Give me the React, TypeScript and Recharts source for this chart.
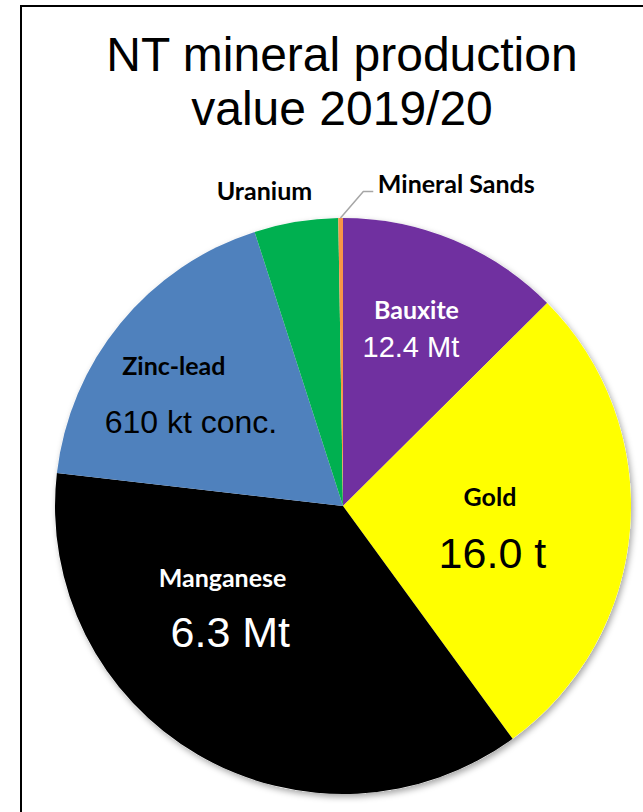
import React from "react";
import { PieChart, Pie, Cell } from "recharts";

const categories = ["Bauxite", "Gold", "Manganese", "Zinc-lead", "Uranium", "Mineral Sands"];
const values = [480, 1050, 1410, 697, 180, 10];
const quantities = ["12.4 Mt", "16.0 t", "6.3 Mt", "610 kt conc.", "", ""];
const colors = ["#7030A0", "#FFFF00", "#000000", "#4F81BD", "#00B050", "#F79646"];

const data = categories.map((name, i) => ({ name, value: values[i], qty: quantities[i] }));

// label placement: [angle clockwise from 12 o'clock, fraction of outer radius]
const placement: any[] = [
  { name: [20.6, 0.725], qty: [23.1, 0.601], fill: "#fff", qtySize: 29 },
  { name: [86.9, 0.511], qty: [107.5, 0.544], fill: "#000", qtySize: 43 },
  { name: [238.8, 0.489], qty: [221.8, 0.587], fill: "#fff", qtySize: 43 },
  { name: [309.4, 0.76], qty: [298.9, 0.603], fill: "#000", qtySize: 32 },
  { name: [345.96, 1.124], fill: "#000" },
  { name: [6.2, 1.121], fill: "#000", anchor: "start", leader: [[359.5, 1.0], [3.7, 1.094], [5.5, 1.097]] },
];

const polar = (cx: number, cy: number, r: number, deg: number) => {
  const a = (deg * Math.PI) / 180;
  return { x: cx + r * Math.sin(a), y: cy - r * Math.cos(a) };
};

const renderLabel = (props: any) => {
  const { cx, cy, outerRadius, index } = props;
  const p = placement[index];
  const n = polar(cx, cy, outerRadius * p.name[1], p.name[0]);
  const items: any[] = [];
  if (p.leader) {
    const pts = p.leader.map((l: number[]) => polar(cx, cy, outerRadius * l[1], l[0]));
    items.push(
      <polyline
        key="leader"
        points={pts.map((q: any) => `${q.x},${q.y}`).join(" ")}
        fill="none"
        stroke="#a6a6a6"
        strokeWidth={1.5}
      />
    );
  }
  items.push(
    <text
      key="name"
      x={n.x}
      y={n.y - 2}
      textAnchor={p.anchor || "middle"}
      dominantBaseline="central"
      fill={p.fill}
      fontFamily="Lato, 'Noto Sans', sans-serif"
      fontWeight={700}
      fontSize={25}
    >
      {data[index].name}
    </text>
  );
  if (p.qty) {
    const q = polar(cx, cy, outerRadius * p.qty[1], p.qty[0]);
    items.push(
      <text
        key="qty"
        x={q.x}
        y={q.y}
        textAnchor="middle"
        dominantBaseline="central"
        fill={p.fill}
        fontFamily="'Liberation Sans', Arial, sans-serif"
        fontSize={p.qtySize}
      >
        {data[index].qty}
      </text>
    );
  }
  return <g>{items}</g>;
};

export default function App() {
  return (
    <div style={{ position: "absolute", left: 0, top: 0, width: 643, height: 812, background: "#fff", overflow: "hidden" }}>
      <svg width={0} height={0} style={{ position: "absolute" }}>
        <defs>
          <filter id="pieShadow" x="-10%" y="-10%" width="120%" height="120%">
            <feDropShadow dx={2} dy={3} stdDeviation={3} floodColor="#000" floodOpacity={0.35} />
          </filter>
        </defs>
      </svg>
      <div
        style={{
          position: "absolute",
          left: 20,
          top: 5,
          width: 643,
          height: 820,
          borderLeft: "2px solid #000",
          borderTop: "2px solid #000",
        }}
      />
      <div
        style={{
          position: "absolute",
          left: 0,
          top: 28,
          width: 684,
          textAlign: "center",
          fontFamily: "'Liberation Sans', Arial, sans-serif",
          fontSize: 48,
          lineHeight: "54px",
          color: "#000",
        }}
      >
        NT mineral production
        <br />
        value 2019/20
      </div>
      <div style={{ position: "absolute", left: 0, top: 0 }}>
        <PieChart width={643} height={812} margin={{ top: 0, right: 0, bottom: 0, left: 0 }}>
          <Pie
            data={[{ name: "bg", value: 1 }]}
            dataKey="value"
            cx={343}
            cy={506}
            outerRadius={288}
            startAngle={90}
            endAngle={-270}
            isAnimationActive={false}
            stroke="none"
          >
            <Cell fill="#fff" filter="url(#pieShadow)" />
          </Pie>
          <Pie
            data={data}
            dataKey="value"
            nameKey="name"
            cx={343}
            cy={506}
            outerRadius={288}
            startAngle={90}
            endAngle={-270}
            isAnimationActive={false}
            stroke="none"
            labelLine={false}
            label={renderLabel}
          >
            {data.map((d, i) => (
              <Cell key={d.name} fill={colors[i]} />
            ))}
          </Pie>
        </PieChart>
      </div>
    </div>
  );
}
